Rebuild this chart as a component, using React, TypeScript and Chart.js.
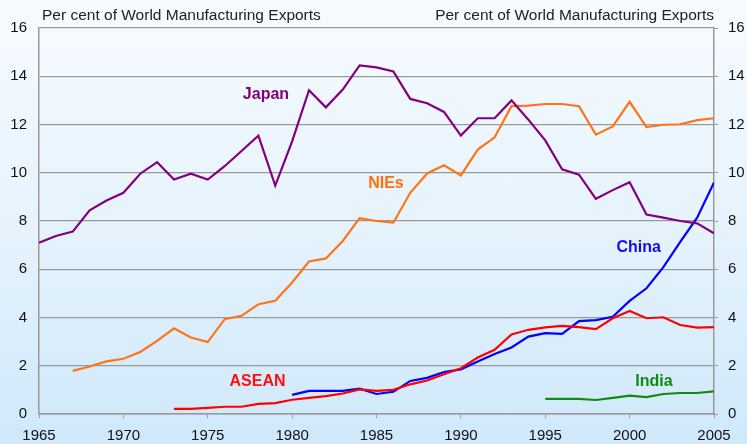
import React, { useEffect, useRef } from "react";
import { Chart, registerables } from "chart.js";
Chart.register(...registerables);

const years = Array.from({ length: 41 }, (_, i) => 1965 + i);
const japan = [7.1, 7.38, 7.56, 8.44, 8.85, 9.17, 9.96, 10.44, 9.72, 9.96, 9.72, 10.27, 10.9, 11.54, 9.47, 11.3, 13.42, 12.71, 13.45, 14.45, 14.37, 14.2, 13.06, 12.88, 12.52, 11.54, 12.26, 12.26, 13.0, 12.2, 11.34, 10.14, 9.92, 8.92, 9.28, 9.61, 8.27, 8.14, 8.0, 7.9, 7.49];
const niesStart = 1967;
const nies = [1.79, 1.97, 2.18, 2.29, 2.57, 3.03, 3.55, 3.17, 2.98, 3.93, 4.07, 4.55, 4.69, 5.45, 6.32, 6.45, 7.17, 8.12, 8.0, 7.93, 9.17, 9.97, 10.31, 9.89, 10.96, 11.47, 12.76, 12.78, 12.85, 12.85, 12.76, 11.58, 11.92, 12.94, 11.89, 11.99, 12.01, 12.18, 12.26];
const chinaStart = 1980;
const china = [0.79, 0.96, 0.96, 0.96, 1.05, 0.83, 0.92, 1.37, 1.5, 1.74, 1.85, 2.18, 2.49, 2.76, 3.21, 3.35, 3.32, 3.85, 3.89, 4.03, 4.69, 5.21, 6.09, 7.13, 8.14, 9.6];
const aseanStart = 1973;
const asean = [0.21, 0.21, 0.25, 0.3, 0.3, 0.42, 0.45, 0.59, 0.67, 0.74, 0.85, 1.02, 0.96, 1.0, 1.23, 1.39, 1.65, 1.9, 2.34, 2.66, 3.3, 3.49, 3.59, 3.65, 3.6, 3.52, 3.97, 4.27, 3.97, 4.01, 3.69, 3.58, 3.6];
const indiaStart = 1995;
const india = [0.63, 0.63, 0.63, 0.58, 0.67, 0.76, 0.7, 0.83, 0.87, 0.87, 0.94];
const yTicks = [0, 2, 4, 6, 8, 10, 12, 14, 16];
const axisTitle = "Per cent of World Manufacturing Exports";

const seriesLabels = [
  { text: "Japan", color: "#800080", x: 1978.45, y: 13.23 },
  { text: "NIEs", color: "#ff6f0f", x: 1985.56, y: 9.54 },
  { text: "China", color: "#1010ee", x: 2000.54, y: 6.88 },
  { text: "ASEAN", color: "#ff1010", x: 1977.95, y: 1.36 },
  { text: "India", color: "#108a10", x: 2001.44, y: 1.36 },
];

const pts = (start: number, arr: number[]) => arr.map((v, i) => ({ x: start + i, y: v }));

export default function App() {
  const ref = useRef<HTMLCanvasElement>(null);
  useEffect(() => {
    if (!ref.current) return;
    const labelPlugin = {
      id: "labels",
      afterDatasetsDraw(chart: any) {
        const ctx = chart.ctx;
        const xs = chart.scales.x;
        const ys = chart.scales.y;
        ctx.save();
        ctx.font = "bold 16px 'Liberation Sans', Arial, sans-serif";
        ctx.textAlign = "center";
        ctx.textBaseline = "middle";
        for (const l of seriesLabels) {
          ctx.fillStyle = l.color;
          ctx.fillText(l.text, xs.getPixelForValue(l.x), ys.getPixelForValue(l.y));
        }
        ctx.font = "15.5px 'Liberation Sans', Arial, sans-serif";
        ctx.fillStyle = "#222";
        ctx.textBaseline = "middle";
        ctx.textAlign = "left";
        ctx.fillText(axisTitle, chart.chartArea.left + 3, 16);
        ctx.textAlign = "right";
        ctx.fillText(axisTitle, chart.chartArea.right, 16);
        ctx.restore();
      },
    };
    const mk = (label: string, data: any[], color: string) => ({
      label,
      data,
      borderColor: color,
      backgroundColor: color,
      borderWidth: 2.2,
      pointRadius: 0,
      tension: 0,
    });
    const tickFont = { family: "'Liberation Sans', Arial, sans-serif", size: 15 };
    const chart = new Chart(ref.current, {
      type: "line",
      data: {
        datasets: [
          mk("Japan", pts(years[0], japan), "#800080"),
          mk("NIEs", pts(niesStart, nies), "#ff7417"),
          mk("ASEAN", pts(aseanStart, asean), "#ff0000"),
          mk("China", pts(chinaStart, china), "#0000ff"),
          mk("India", pts(indiaStart, india), "#118a11"),
        ],
      },
      options: {
        animation: false,
        responsive: false,
        maintainAspectRatio: false,
        layout: { padding: { top: 28, left: 0, right: 0, bottom: 0 } },
        plugins: { legend: { display: false }, tooltip: { enabled: false } },
        scales: {
          x: {
            type: "linear",
            min: 1965,
            max: 2005,
            afterFit: (s: any) => { s.height = 30; },
            ticks: { stepSize: 5, color: "#111", font: tickFont, padding: 9, maxRotation: 0, callback: (v: any) => String(v) },
            grid: { drawOnChartArea: false, drawTicks: true, tickLength: 4, color: "#9a9a9a" },
            border: { color: "#9a9a9a", width: 1.5 },
          },
          y: {
            position: "left",
            min: 0,
            max: 16,
            afterFit: (s: any) => { s.width = 39; },
            afterBuildTicks: (s: any) => { s.ticks = yTicks.map((v) => ({ value: v })); },
            ticks: { color: "#111", font: tickFont, padding: 12 },
            grid: { drawTicks: false, color: "#9a9a9a", lineWidth: 1.2 },
            border: { color: "#9a9a9a", width: 1.5 },
          },
          y2: {
            position: "right",
            min: 0,
            max: 16,
            afterFit: (s: any) => { s.width = 33; },
            afterBuildTicks: (s: any) => { s.ticks = yTicks.map((v) => ({ value: v })); },
            ticks: { color: "#111", font: tickFont, padding: 10 },
            grid: { drawOnChartArea: false, drawTicks: true, tickLength: 4, color: "#9a9a9a" },
            border: { color: "#9a9a9a", width: 1.5 },
          },
        },
      } as any,
      plugins: [labelPlugin],
    });
    return () => chart.destroy();
  }, []);
  return (
    <div
      style={{
        position: "fixed",
        left: 0,
        top: 0,
        width: 747,
        height: 444,
        background: "linear-gradient(to bottom, #f7fbff 0%, #e6f3fd 50%, #cfe8fa 100%)",
      }}
    >
      <canvas ref={ref} width={747} height={444} style={{ display: "block" }} />
    </div>
  );
}
